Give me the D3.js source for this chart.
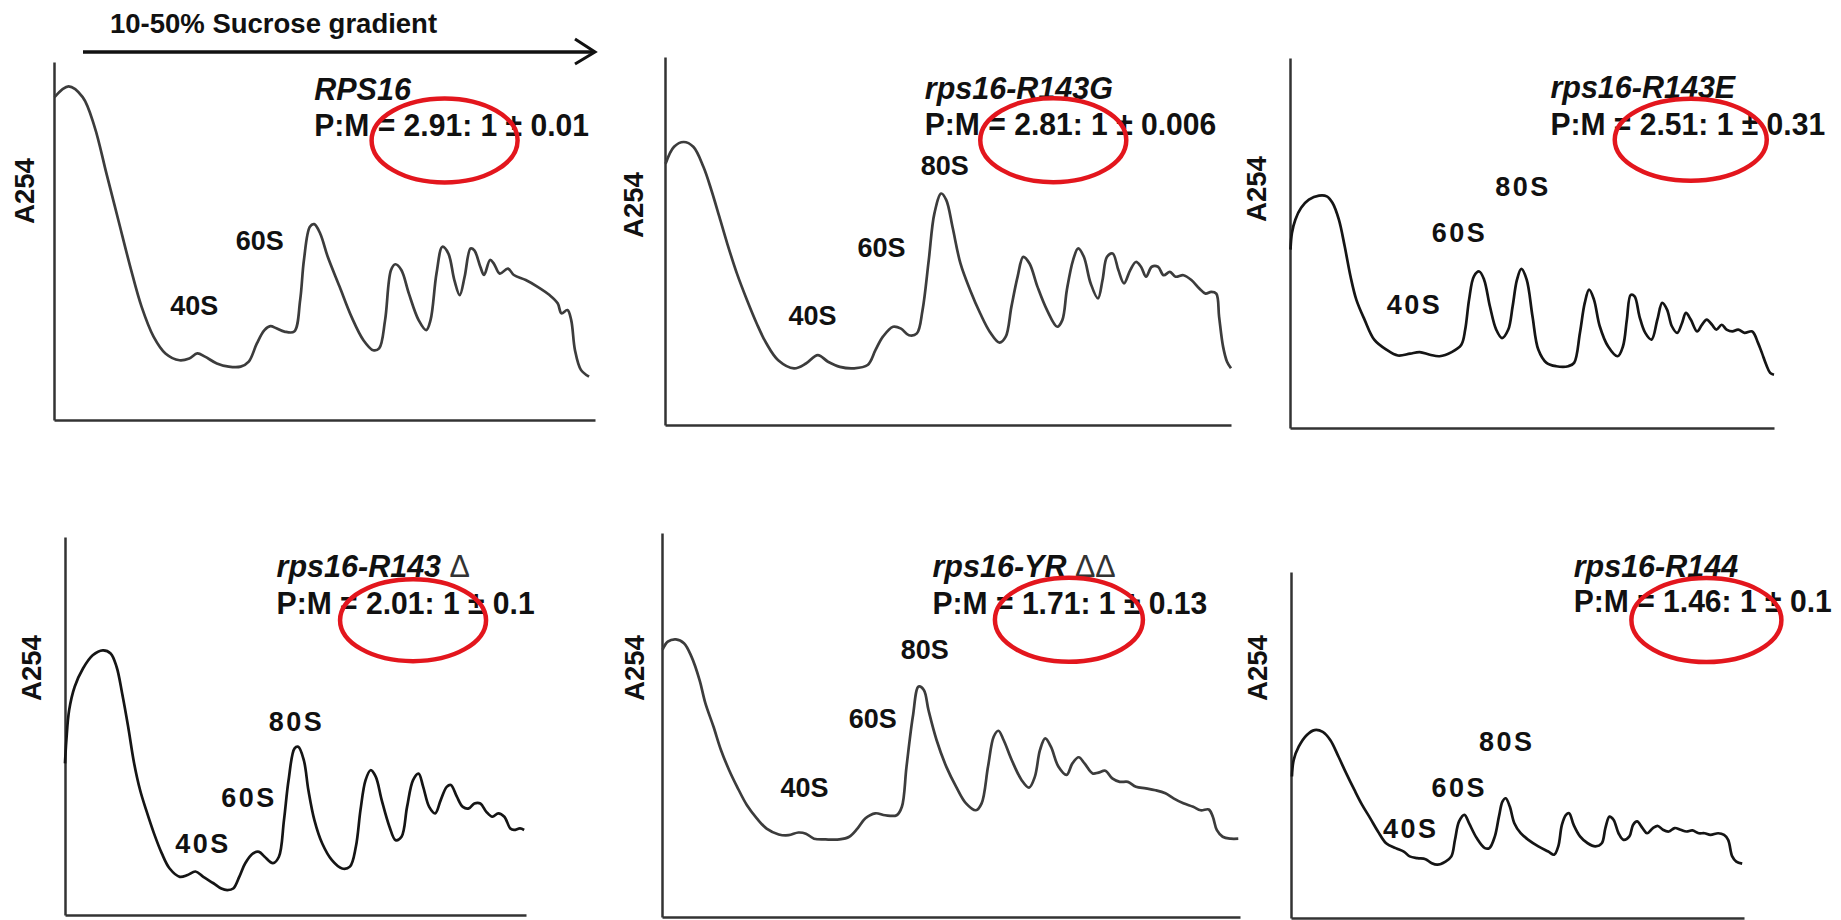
<!DOCTYPE html>
<html>
<head>
<meta charset="utf-8">
<script src="https://cdn.jsdelivr.net/npm/d3@7"></script>
<style>
  html, body { margin: 0; padding: 0; background: #fff; }
  svg { display: block; }
  text { font-family: "Liberation Sans", Arial, sans-serif; font-weight: bold; fill: #111; }
</style>
</head>
<body>
<svg id="chart" width="1841" height="920"></svg>
<script>
// ---------------- data ----------------
const sampleNames = ["RPS16", "rps16-R143G", "rps16-R143E", "rps16-R143", "rps16-YR", "rps16-R144"];
const sampleSuffix = ["", "", "", "Δ", "ΔΔ", ""];
const pmRatio = ["2.91", "2.81", "2.51", "2.01", "1.71", "1.46"];
const pmError = ["0.01", "0.006", "0.31", "0.1", "0.13", "0.1"];
const gradientLabel = "10-50% Sucrose gradient";
const yAxisLabel = "A254";

// A254 profiles: [position along gradient (% of axis), absorbance (% of axis height)]
const profileRPS16 = [[0.1,90.2],[2.7,93.2],[5.3,90.2],[7.5,81.9],[9.7,68.8],[11.9,55.8],[14.1,42.8],[16.2,31.6],[18.4,23.3],[20.6,18.6],[23.2,16.7],[25.0,17.2],[26.5,18.6],[27.9,17.7],[30.1,15.8],[32.3,14.9],[34.5,14.9],[36.0,16.3],[37.5,21.4],[38.9,25.1],[40.0,26.2],[41.1,25.6],[42.6,24.7],[44.4,24.7],[45.5,33.5],[46.2,44.7],[47.3,54.0],[48.1,54.7],[49.2,52.1],[50.6,45.6],[52.8,37.2],[55.0,28.8],[57.2,22.3],[59.0,19.5],[60.1,20.0],[61.2,27.9],[62.3,41.9],[63.1,43.5],[64.2,41.9],[65.6,35.3],[67.4,27.9],[68.8,25.1],[69.6,27.9],[70.7,40.9],[71.8,48.4],[72.9,46.5],[74.0,39.1],[75.0,34.9],[75.9,40.0],[77.0,47.9],[77.7,47.4],[78.8,42.8],[79.5,40.5],[80.6,44.7],[81.3,43.7],[82.4,40.9],[83.9,42.3],[85.0,40.5],[87.2,39.1],[89.4,37.2],[91.6,34.9],[93.1,32.6],[93.8,29.8],[94.9,30.7],[95.6,27.9],[96.3,19.5],[97.4,14.0],[98.9,12.1]];
const profileR143G = [[0.1,71.0],[1.6,75.6],[3.3,76.9],[5.0,75.6],[6.8,70.1],[8.2,63.8],[9.6,56.6],[11.0,49.3],[12.7,41.2],[14.5,33.9],[16.2,27.6],[17.9,22.2],[20.0,17.6],[22.8,15.4],[24.9,16.7],[27.0,19.0],[28.8,17.2],[30.9,15.8],[33.3,15.4],[35.8,16.3],[37.2,20.4],[38.5,24.0],[40.3,26.7],[41.7,26.2],[43.1,24.4],[44.5,24.9],[45.5,31.2],[46.6,44.8],[47.6,57.5],[48.8,62.9],[49.7,61.1],[50.8,53.8],[52.2,43.9],[53.9,36.7],[55.7,30.3],[57.4,25.3],[59.1,22.4],[60.2,24.0],[61.2,32.1],[62.3,40.3],[63.3,45.7],[64.4,43.9],[65.8,37.6],[67.5,31.2],[69.3,26.7],[70.2,28.5],[71.0,36.7],[72.1,44.8],[73.0,48.0],[74.0,45.7],[75.2,38.5],[76.5,34.4],[77.3,39.4],[78.1,45.7],[79.1,46.6],[80.1,42.1],[81.1,38.5],[82.2,42.1],[83.2,44.3],[84.1,43.0],[85.0,40.3],[86.0,43.0],[87.1,43.0],[88.1,40.7],[89.2,41.6],[90.2,40.3],[91.6,40.7],[93.0,39.4],[94.4,37.1],[95.5,35.7],[96.5,36.2],[97.4,35.7],[97.9,29.4],[98.6,21.3],[99.3,17.2],[100,15.4]];
const profileR143E = [[0.1,48.2],[0.4,52.7],[1.1,56.3],[2.3,59.5],[3.9,61.7],[6.0,62.8],[7.6,62.6],[8.8,60.8],[10.1,56.3],[11.3,49.1],[12.5,41.0],[13.7,34.7],[15.4,29.3],[17.4,23.9],[19.9,21.2],[22.3,19.6],[24.8,20.1],[26.8,20.5],[28.9,19.8],[30.9,19.4],[33.4,20.5],[35.4,22.5],[36.2,26.6],[37.0,34.7],[38.0,41.0],[39.1,42.3],[40.1,40.1],[41.3,32.9],[42.6,26.6],[43.8,24.3],[45.1,26.6],[46.0,32.9],[46.9,40.1],[47.8,43.0],[48.9,40.1],[50.1,30.2],[51.3,21.2],[53.0,17.6],[55.0,16.7],[57.5,16.7],[58.7,17.6],[59.9,25.7],[60.9,33.8],[61.8,37.4],[62.8,34.7],[64.0,27.5],[65.7,22.1],[67.7,19.4],[68.8,22.1],[69.6,29.3],[70.4,36.0],[71.2,35.6],[72.2,30.2],[73.4,25.7],[74.7,23.9],[75.9,29.3],[76.9,33.8],[77.9,32.0],[78.9,27.5],[80.0,25.7],[81.0,28.4],[81.8,31.1],[82.8,29.3],[84.1,26.1],[85.1,27.9],[86.1,29.3],[87.2,27.9],[88.1,26.6],[89.2,27.9],[90.2,26.6],[91.4,26.1],[92.6,26.6],[93.9,25.7],[95.5,26.1],[96.7,23.0],[97.5,20.3],[98.4,17.1],[99.2,14.9],[100,14.4]];
const profileR143del = [[0,40.1],[0.3,46.3],[0.9,54.2],[2.1,60.4],[3.9,65.2],[6.0,68.7],[8.2,70.0],[9.9,69.2],[11.2,65.6],[12.4,58.6],[13.7,49.8],[15.0,40.1],[16.3,33.0],[17.6,27.8],[19.3,21.6],[21.0,16.3],[22.7,12.3],[24.9,10.1],[26.6,10.6],[28.3,11.5],[30.0,10.1],[32.2,8.4],[33.9,7.0],[35.2,6.6],[36.5,7.0],[37.8,10.1],[39.1,13.7],[40.8,16.3],[42.1,16.7],[43.3,15.4],[45.1,13.7],[46.4,15.4],[47.5,25.1],[48.5,35.7],[49.8,44.1],[50.6,44.5],[51.8,41.0],[52.8,33.0],[54.1,25.1],[55.8,18.9],[57.9,14.5],[60.1,12.3],[61.8,12.8],[63.1,18.1],[64.1,27.8],[65.2,35.7],[66.3,38.3],[67.4,36.6],[68.7,30.4],[70.4,23.3],[71.7,19.8],[73.0,20.7],[74.2,28.6],[75.5,35.7],[76.7,37.4],[77.7,33.9],[79.0,28.6],[80.3,26.9],[81.5,30.4],[82.8,33.9],[83.7,34.4],[85.0,31.3],[86.3,28.6],[87.6,28.2],[88.8,29.5],[90.1,29.5],[91.4,27.3],[92.7,26.0],[94.0,26.9],[95.3,26.0],[96.6,22.9],[97.4,22.5],[98.7,22.9],[99.6,22.5]];
const profileYRdel = [[0.1,69.6],[1.0,71.7],[2.4,72.3],[3.8,71.3],[5.1,67.8],[6.5,61.7],[7.5,55.7],[8.9,49.6],[10.2,43.5],[11.6,38.3],[13.0,33.9],[14.7,29.1],[16.4,25.7],[18.1,23.0],[20.2,21.5],[21.9,21.3],[23.6,22.0],[24.9,21.7],[26.3,20.4],[28.3,20.2],[30.7,20.2],[32.4,20.9],[33.8,23.0],[35.2,25.7],[36.9,27.0],[38.6,26.5],[40.6,26.5],[41.5,28.7],[42.3,39.1],[43.4,52.2],[44.4,60.0],[45.3,59.1],[46.1,53.9],[47.5,46.1],[49.2,39.1],[50.9,33.9],[52.6,29.6],[54.3,27.8],[55.3,29.6],[56.4,39.1],[57.4,47.0],[58.2,48.5],[59.1,46.1],[60.5,40.9],[62.2,35.7],[63.5,33.7],[64.5,36.5],[65.4,43.5],[66.3,46.5],[67.3,44.3],[68.6,39.1],[70.0,37.0],[71.0,40.0],[72.1,41.6],[73.1,40.0],[74.5,37.4],[75.5,37.6],[76.7,38.1],[77.9,36.1],[79.2,35.2],[80.6,35.2],[82.0,33.9],[83.7,33.5],[85.4,33.0],[87.1,32.2],[88.5,30.9],[90.2,29.6],[91.9,28.7],[93.2,27.8],[94.6,28.0],[95.3,26.1],[96.0,22.6],[97.0,20.9],[98.4,20.4],[99.7,20.4]];
const profileR144 = [[0.2,40.9],[0.6,45.7],[1.7,49.5],[3.5,52.9],[5.2,54.3],[7.0,53.8],[8.7,51.4],[10.5,46.6],[12.2,41.8],[14.0,37.0],[15.7,32.7],[17.5,28.8],[19.2,25.0],[21.0,21.6],[23.1,20.2],[24.9,19.2],[26.2,17.8],[27.9,17.3],[29.7,17.0],[31.0,15.9],[32.3,15.4],[34.1,16.3],[35.4,17.8],[36.2,22.6],[37.1,27.9],[38.3,29.8],[39.3,27.4],[41.0,23.1],[42.8,20.2],[43.8,20.2],[45.0,23.6],[45.9,29.3],[46.7,33.7],[47.4,34.6],[48.3,32.2],[49.3,27.4],[50.7,24.5],[52.4,22.6],[54.6,20.7],[56.8,19.2],[58.1,18.3],[59.0,20.7],[59.8,26.9],[60.7,29.8],[61.4,30.3],[62.4,26.9],[63.8,23.6],[65.5,21.6],[67.2,20.7],[68.6,21.6],[69.4,26.0],[70.3,29.3],[71.2,28.4],[72.3,24.5],[73.4,22.6],[74.7,23.6],[75.5,26.9],[76.4,27.9],[77.6,26.0],[78.6,24.5],[79.9,26.0],[81.0,26.6],[82.1,25.5],[83.4,25.0],[84.7,26.0],[86.0,25.5],[87.3,25.0],[88.6,25.3],[90.0,24.5],[91.3,24.5],[92.6,24.0],[94.3,24.5],[95.6,24.0],[96.5,22.6],[97.4,17.8],[98.3,16.3],[99.6,15.7]];
const profiles = [profileRPS16, profileR143G, profileR143E, profileR143del, profileYRdel, profileR144];

// peak annotations (data coordinates of label baseline start)
const peakLabels = [
  [["40S",21.5,29.3],["60S",33.6,47.6]],
  [["40S",21.8,27.1],["60S",34.0,45.7],["80S",45.2,67.9]],
  [["40S",20.0,30.9],["60S",29.3,50.2],["80S",42.4,62.6]],
  [["40S",23.9,16.3],["60S",33.9,28.5],["80S",44.2,48.7]],
  [["40S",20.5,31.3],["60S",32.3,49.1],["80S",41.3,67.1]],
  [["40S",20.3,23.1],["60S",31.0,35.1],["80S",41.5,48.4]]
];
// title / ratio anchors (data coordinates) and highlight ellipse centres
const titleAnchor = [[48.1,89.5],[45.9,88.7],[53.8,89.2],[45.9,89.3],[46.8,88.5],[62.4,98.6]];
const ratioAnchor = [[48.1,79.3],[45.9,78.7],[53.8,79.3],[45.9,79.6],[46.8,79.0],[62.4,88.3]];
const ellipseCentre = [[72.2,78.1],[68.6,77.4],[82.8,77.9],[75.5,78.0],[70.4,77.4],[91.7,86.1]];

// ---------------- layout (pixels) ----------------
const panels = [
  {l: 54,   r: 595,  t: 62,  b: 420, lab: [24, 191],  col: "#3c3c3c", sp: 0},
  {l: 665,  r: 1231, t: 57,  b: 425, lab: [633, 205], col: "#3c3c3c", sp: 0},
  {l: 1290, r: 1774, t: 58,  b: 428, lab: [1256, 189],col: "#151515", sp: 2.5},
  {l: 65,   r: 526,  t: 537, b: 915, lab: [31, 668],  col: "#151515", sp: 2.5},
  {l: 662,  r: 1240, t: 533, b: 917, lab: [634, 668], col: "#3c3c3c", sp: 0},
  {l: 1291, r: 1744, t: 572, b: 918, lab: [1257, 668],col: "#151515", sp: 2.5}
];
const ellipseR = [[73,42],[73,42],[76,41],[73,41],[74,42],[75,42]];

const svg = d3.select("#chart");

// gradient arrow + label
const arrowX = d3.scaleLinear().domain([0, 100]).range([83, 595]);
svg.append("line").attr("x1", arrowX(0)).attr("x2", arrowX(100) - 1)
  .attr("y1", 52).attr("y2", 52).attr("stroke", "#111").attr("stroke-width", 3.5);
svg.append("path").attr("d", `M${arrowX(100) - 20},39 L${arrowX(100)},52 L${arrowX(100) - 20},64`)
  .attr("fill", "none").attr("stroke", "#111").attr("stroke-width", 3);
svg.append("text").attr("x", 110).attr("y", 33).style("font-size", "27.5px").text(gradientLabel);

panels.forEach((p, i) => {
  const x = d3.scaleLinear().domain([0, 100]).range([p.l, p.r]);
  const y = d3.scaleLinear().domain([0, 100]).range([p.b, p.t]);
  const g = svg.append("g");

  // axes (lines only)
  g.append("g").attr("transform", `translate(0,${p.b})`)
    .call(d3.axisBottom(x).ticks(0).tickSizeOuter(0))
    .call(a => a.select(".domain").attr("stroke", "#333").attr("stroke-width", 2.5));
  g.append("g").attr("transform", `translate(${p.l},0)`)
    .call(d3.axisLeft(y).ticks(0).tickSizeOuter(0))
    .call(a => a.select(".domain").attr("stroke", "#333").attr("stroke-width", 2.5));

  // profile
  const line = d3.line().x(d => x(d[0])).y(d => y(d[1])).curve(d3.curveCatmullRom.alpha(0.5));
  g.append("path").datum(profiles[i]).attr("d", line)
    .attr("fill", "none").attr("stroke", p.col).attr("stroke-width", 2.7)
    .attr("stroke-linejoin", "round");

  // y label
  g.append("text").attr("transform", `translate(${p.lab[0]},${p.lab[1]}) rotate(-90)`)
    .attr("text-anchor", "middle").attr("dominant-baseline", "central")
    .style("font-size", "27.5px").text(yAxisLabel);

  // peak labels
  peakLabels[i].forEach(([t, lx, ly]) => {
    g.append("text").attr("x", x(lx)).attr("y", y(ly))
      .style("font-size", "27px").style("letter-spacing", p.sp + "px").text(t);
  });

  // title
  const tt = g.append("text").attr("x", x(titleAnchor[i][0])).attr("y", y(titleAnchor[i][1]))
    .style("font-size", "30.5px").style("font-style", "italic");
  tt.append("tspan").text(sampleNames[i]);
  if (sampleSuffix[i]) {
    tt.append("tspan").text(" " + sampleSuffix[i])
      .style("font-style", "normal").style("font-weight", "normal").style("fill", "#333");
  }

  // ratio (slightly condensed, as in the reference)
  g.append("text")
    .attr("transform", `translate(${x(ratioAnchor[i][0])},${y(ratioAnchor[i][1])}) scale(0.94,1)`)
    .style("font-size", "32px")
    .text(`P:M = ${pmRatio[i]}: 1 ± ${pmError[i]}`);

  // highlight ellipse
  g.append("ellipse").attr("cx", x(ellipseCentre[i][0])).attr("cy", y(ellipseCentre[i][1]))
    .attr("rx", ellipseR[i][0]).attr("ry", ellipseR[i][1])
    .attr("fill", "none").attr("stroke", "#e3161d").attr("stroke-width", 4.5);
});
</script>
</body>
</html>
